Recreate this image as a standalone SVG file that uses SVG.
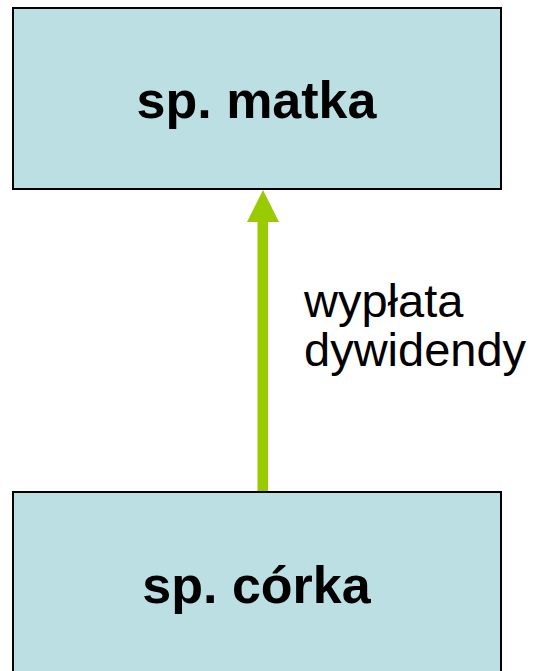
<svg xmlns="http://www.w3.org/2000/svg" width="535" height="671" viewBox="0 0 535 671">
  <style>
    .box { fill: #bbdfe2; stroke: #000; stroke-width: 2; }
    .title { font-family: "Liberation Sans", Arial, sans-serif; font-weight: bold; font-size: 52px; fill: #000; text-anchor: middle; }
    .label { font-family: "Liberation Sans", Arial, sans-serif; font-size: 47px; fill: #000; }
    .flow { fill: #99cc00; }
  </style>
  <rect width="535" height="671" fill="#fff"/>
  <g id="connectors">
    <!-- dividend payment: subsidiary up to parent -->
    <polygon class="flow" points="257.5,492 268,492 268,222 279,222 263,190 247,222 257.5,222"/>
    <text class="label" x="304" y="317">wypłata</text>
    <text class="label" x="304" y="366">dywidendy</text>
  </g>
  <g id="parent">
    <rect class="box" x="13" y="8" width="488" height="181"/>
    <text class="title" x="256.5" y="118">sp. matka</text>
  </g>
  <g id="subsidiary">
    <rect class="box" x="13" y="492" width="488" height="190"/>
    <text class="title" x="256.5" y="603">sp. córka</text>
  </g>
</svg>
